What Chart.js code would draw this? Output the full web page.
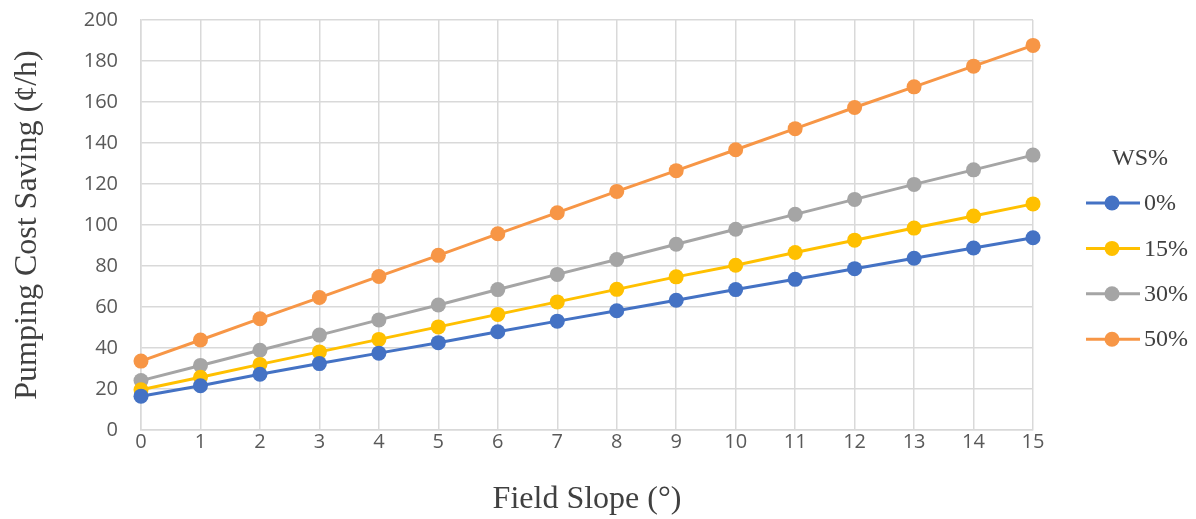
<!DOCTYPE html>
<html>
<head>
<meta charset="utf-8">
<script src="https://cdn.jsdelivr.net/npm/chart.js@4.4.1/dist/chart.umd.min.js"></script>
<style>
  html, body { margin: 0; padding: 0; background: #ffffff; }
  #wrap { width: 1196px; height: 519px; position: relative; }
</style>
</head>
<body>
<div id="wrap"><canvas id="chart" width="1196" height="519"></canvas></div>
<script>
// Field slope (degrees) on the horizontal axis
const slopes = [0, 1, 2, 3, 4, 5, 6, 7, 8, 9, 10, 11, 12, 13, 14, 15];

// Pumping cost saving (¢/h) for each water-saving level
const ws0  = [16.5, 21.6, 27.2, 32.4, 37.5, 42.6, 47.9, 53.1, 58.2, 63.3, 68.5, 73.5, 78.7, 83.8, 88.8, 93.8];
const ws15 = [19.6, 25.7, 32.0, 38.1, 44.2, 50.3, 56.4, 62.5, 68.6, 74.7, 80.4, 86.6, 92.6, 98.5, 104.4, 110.3];
const ws30 = [24.1, 31.5, 38.9, 46.3, 53.7, 61.0, 68.5, 75.9, 83.2, 90.6, 97.9, 105.2, 112.5, 119.8, 126.9, 134.1];
const ws50 = [33.6, 43.9, 54.3, 64.6, 74.9, 85.2, 95.7, 106.0, 116.4, 126.5, 136.7, 147.0, 157.3, 167.4, 177.5, 187.6];

const seriesNames = ['0%', '15%', '30%', '50%'];
const legendTitle = 'WS%';
const xTitle = 'Field Slope (°)';
const yTitle = 'Pumping Cost Saving (¢/h)';

const colors = ['#4472C4', '#FFC000', '#A5A5A5', '#F79646'];
const allSeries = [ws0, ws15, ws30, ws50];

const datasets = allSeries.map((vals, i) => ({
  label: seriesNames[i],
  data: vals.map((v, k) => ({ x: slopes[k], y: v })),
  borderColor: colors[i],
  backgroundColor: colors[i],
  borderWidth: 3,
  pointRadius: 7.5,
  pointHoverRadius: 7.5,
  pointBorderWidth: 0,
  pointBackgroundColor: colors[i],
  tension: 0,
  clip: false
}));

// Legend at the right: a short line with a dot, then the label
const sideLegend = {
  id: 'sideLegend',
  afterDraw(chart) {
    const ctx = chart.ctx;
    ctx.save();
    ctx.fillStyle = '#404040';
    ctx.font = '24px "Liberation Serif", "Times New Roman", serif';
    ctx.textBaseline = 'middle';
    ctx.textAlign = 'left';
    ctx.fillText(legendTitle, 1112, 159);
    chart.data.datasets.forEach((ds, i) => {
      const y = 203 + i * 45.4;
      ctx.strokeStyle = ds.borderColor;
      ctx.lineWidth = 3;
      ctx.beginPath();
      ctx.moveTo(1086, y);
      ctx.lineTo(1140, y);
      ctx.stroke();
      ctx.fillStyle = ds.borderColor;
      ctx.beginPath();
      ctx.arc(1112, y, 7.5, 0, Math.PI * 2);
      ctx.fill();
      ctx.fillStyle = '#404040';
      ctx.fillText(ds.label, 1144, y + 1);
    });
    ctx.restore();
  }
};

new Chart(document.getElementById('chart'), {
  type: 'line',
  data: { datasets },
  options: {
    responsive: false,
    animation: false,
    events: [],
    layout: { padding: { top: 20, right: 163, left: 0, bottom: 0 } },
    plugins: {
      legend: { display: false },
      tooltip: { enabled: false }
    },
    scales: {
      x: {
        type: 'linear',
        min: 0,
        max: 15,
        afterFit(scale) { scale.height = 89; },
        ticks: {
          stepSize: 1,
          padding: 0,
          color: '#595959',
          font: { family: '"Open Sans", sans-serif', size: 20 }
        },
        grid: { color: '#d9d9d9', lineWidth: 1.5, drawTicks: false },
        border: { color: '#d9d9d9', width: 1.5 },
        title: {
          display: true,
          text: xTitle,
          color: '#404040',
          font: { family: '"Liberation Serif", "Times New Roman", serif', size: 32 },
          padding: { top: 0, bottom: 0 }
        }
      },
      y: {
        min: 0,
        max: 200,
        afterFit(scale) {
          scale.width = 141;
          scale.paddingTop = 0;
          scale.paddingBottom = 0;
        },
        ticks: {
          stepSize: 20,
          padding: 23,
          color: '#595959',
          font: { family: '"Open Sans", sans-serif', size: 20 }
        },
        grid: { color: '#d9d9d9', lineWidth: 1.5, drawTicks: false },
        border: { color: '#d9d9d9', width: 1.5 },
        title: {
          display: true,
          text: yTitle,
          color: '#404040',
          font: { family: '"Liberation Serif", "Times New Roman", serif', size: 32 },
          padding: { top: 8, bottom: 0 }
        }
      }
    }
  },
  plugins: [sideLegend]
});
</script>
</body>
</html>
